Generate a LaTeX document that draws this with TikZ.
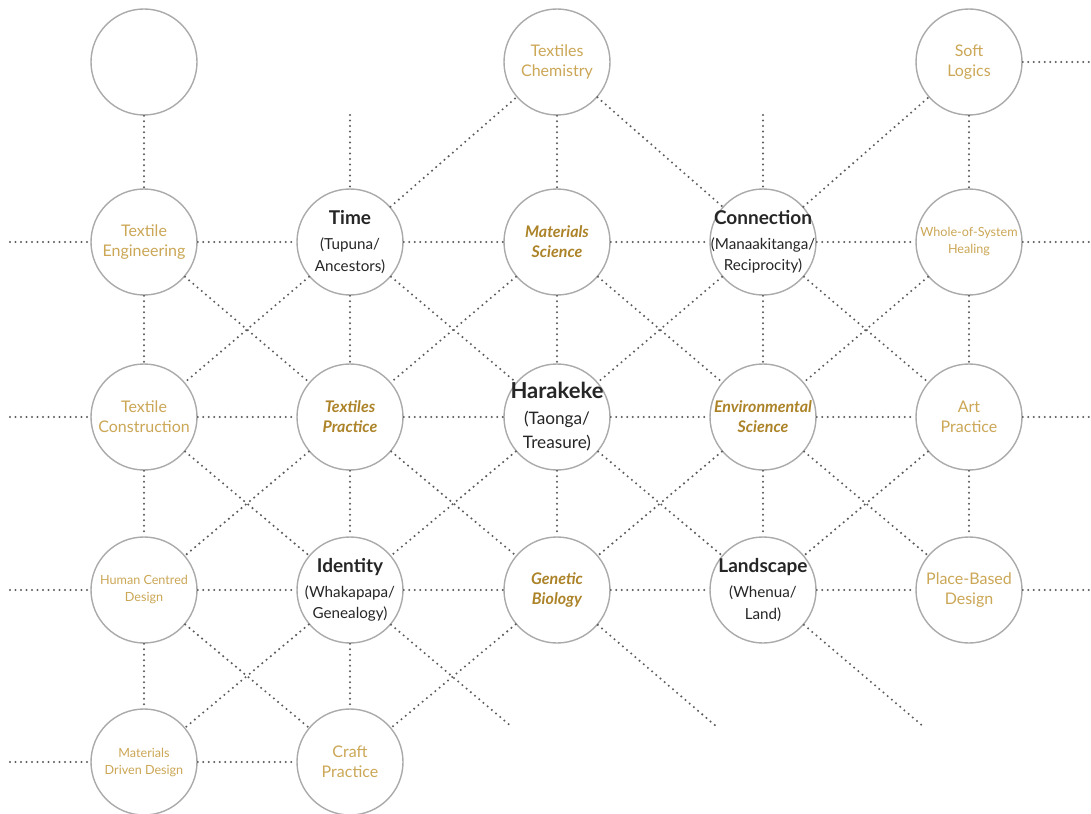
\documentclass[tikz,border=0pt]{standalone}
\usepackage{fontspec}
\setmainfont{Lato}
\definecolor{goldlight}{RGB}{203,167,86}
\definecolor{golddark}{RGB}{172,131,40}
\definecolor{dotgray}{RGB}{92,92,92}
\definecolor{ringgray}{RGB}{170,170,170}
\begin{document}
\begin{tikzpicture}[x=0.5pt, y=-0.5pt, main/.style = {draw=ringgray, line width=0.7pt, circle, fill=white, minimum size=53pt, inner sep=-14pt, align=center}, field/.style = {main, text=goldlight, font=\fontsize{8}{10}\selectfont}, small/.style = {main, text=goldlight, font=\fontsize{6.3}{8.5}\selectfont}, core/.style = {main, text=golddark, font=\fontsize{8}{10}\selectfont\bfseries\itshape}, key/.style = {main, text=black!85, font=\fontsize{7.6}{10.8}\selectfont}, link/.style = {dotgray, line width=1.15pt, line cap=round, dash pattern=on 0pt off 2.75pt}]
    \useasboundingbox (0,0) rectangle (1091,813);

    \node[main] (1) at (144,62) {};
    \node[field] (2) at (557,62) {Textiles\\Chemistry};
    \node[field] (3) at (969,62) {Soft\\Logics};

    \node[field] (4) at (144,242) {Textile\\Engineering};
    \node[key] (5) at (350,242) {{\fontsize{9.5}{11}\selectfont\bfseries Time}\\[1.5pt](Tupuna/\\Ancestors)};
    \node[core] (6) at (557,242) {Materials\\Science};
    \node[key] (7) at (763,242) {{\fontsize{9.5}{11}\selectfont\bfseries Connection}\\[1.5pt](Manaakitanga/\\Reciprocity)};
    \node[small] (8) at (969,242) {Whole-of-System\\Healing};

    \node[field] (9) at (144,417) {Textile\\Construction};
    \node[core] (10) at (350,417) {Textiles\\Practice};
    \node[key, font=\fontsize{8.6}{12}\selectfont] (11) at (557,417) {{\fontsize{11}{13}\selectfont\bfseries Harakeke}\\[1pt](Taonga/\\Treasure)};
    \node[core] (12) at (763,417) {Environmental\\Science};
    \node[field] (13) at (969,417) {Art\\Practice};

    \node[small] (14) at (144,590) {Human Centred\\Design};
    \node[key] (15) at (350,590) {{\fontsize{9.5}{11}\selectfont\bfseries Identity}\\[1.5pt](Whakapapa/\\Genealogy)};
    \node[core] (16) at (557,590) {Genetic\\Biology};
    \node[key] (17) at (763,590) {{\fontsize{9.5}{11}\selectfont\bfseries Landscape}\\[1.5pt](Whenua/\\Land)};
    \node[field] (18) at (969,590) {Place-Based\\Design};

    \node[small] (19) at (144,762) {Materials\\Driven Design};
    \node[field] (20) at (350,762) {Craft\\Practice};

    % free ends of the dotted lines
    \coordinate (r0) at (1089,62);
    \coordinate (l1) at (10,242);  \coordinate (r1) at (1089,242);
    \coordinate (l2) at (10,417);  \coordinate (r2) at (1089,417);
    \coordinate (l3) at (10,590);  \coordinate (r3) at (1089,590);
    \coordinate (l4) at (10,762);
    \coordinate (t5) at (350,115); \coordinate (t7) at (763,115);
    \coordinate (d15) at (512,727); \coordinate (d16) at (717,727); \coordinate (d17) at (924,727);

    % rows
    \foreach \a/\b in {3/r0, l1/4, 4/5, 5/6, 6/7, 7/8, 8/r1, l2/9, 9/10, 10/11, 11/12, 12/13, 13/r2, l3/14, 14/15, 15/16, 16/17, 17/18, 18/r3, l4/19, 19/20}
        \draw[link] (\a) -- (\b);
    % columns
    \foreach \a/\b in {1/4, 4/9, 9/14, 14/19, t5/5, 5/10, 10/15, 15/20, 2/6, 6/11, 11/16, t7/7, 7/12, 12/17, 3/8, 8/13, 13/18}
        \draw[link] (\a) -- (\b);
    % diagonals
    \foreach \a/\b in {5/2, 2/7, 7/3, 4/10, 5/9, 5/11, 6/10, 6/12, 7/11, 7/13, 8/12, 9/15, 10/14, 10/16, 11/15, 11/17, 12/16, 12/18, 13/17, 14/20, 15/19, 16/20, 15/d15, 16/d16, 17/d17}
        \draw[link] (\a) -- (\b);
\end{tikzpicture}
\end{document}
